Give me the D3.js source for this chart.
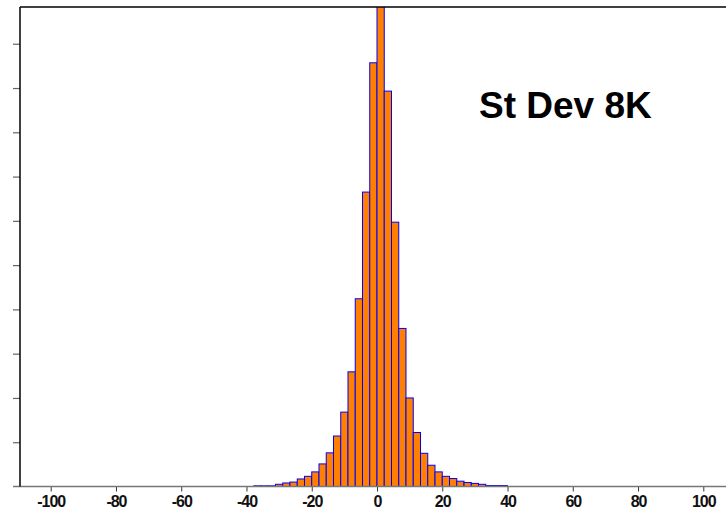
<!DOCTYPE html>
<html>
<head>
<meta charset="utf-8">
<script src="https://cdn.jsdelivr.net/npm/d3@7"></script>
<style>
  body { margin: 0; background: #fff; }
  svg { display: block; }
</style>
</head>
<body>
<svg></svg>
<script>
// histogram counts, 35 bins from -37.78 to 40
var counts = [1.5, 1.5, 1.5, 5, 8, 10, 17, 23, 33, 51, 76, 114, 168, 259, 424, 665, 957, 1100,
              893, 597, 357, 200, 122, 75, 48, 33, 23, 18, 12, 9, 7, 5, 2, 2, 2]
var binStart = -37.78
var binEnd = 40
var xTicks = [-100, -80, -60, -40, -20, 0, 20, 40, 60, 80, 100]
var yTicks = [100, 200, 300, 400, 500, 600, 700, 800, 900, 1000]
var title = 'St Dev 8K'

var screen = { width: 726, height: 510 }
var binWidth = (binEnd - binStart) / counts.length

var xScale = d3.scaleLinear()
               .domain([-100, 100])
               .range([50.7, 703.3])

var yScale = d3.scaleLinear()
               .domain([0, 1083])
               .range([486.5, 7])

var svg = d3.select('svg')
  .attr('width', screen.width)
  .attr('height', screen.height)

svg.append('defs').append('clipPath').attr('id', 'clip')
  .append('rect')
  .attr('x', 20).attr('y', 7)
  .attr('width', screen.width - 20).attr('height', 486.5 - 7)

var bins = counts.map(function(d, i) {
  return { x0: binStart + i * binWidth, x1: binStart + (i + 1) * binWidth, v: d }
})

svg.append('g')
  .attr('clip-path', 'url(#clip)')
  .selectAll('rect')
  .data(bins)
  .enter()
  .append('rect')
  .attr('x', function(d) { return xScale(d.x0) })
  .attr('width', function(d) { return xScale(d.x1) - xScale(d.x0) })
  .attr('y', function(d) { return yScale(d.v) })
  .attr('height', function(d) { return yScale(0) - yScale(d.v) })
  .attr('fill', '#ff8000')
  .attr('stroke', '#0000ff')
  .attr('stroke-width', 1)

// x axis
var xAxis = svg.append('g')
  .attr('transform', 'translate(0,' + yScale(0) + ')')
  .call(d3.axisBottom(xScale).tickValues(xTicks).tickSize(5).tickFormat(function(d) { return d }))
xAxis.select('.domain').remove()
xAxis.append('line')
  .attr('x1', 13).attr('x2', screen.width)
  .attr('stroke', '#777').attr('stroke-width', 1.5)
xAxis.selectAll('.tick line').attr('stroke', '#333')
xAxis.selectAll('.tick text')
  .attr('y', 20)
  .attr('dy', null)
  .attr('font-family', 'Liberation Sans, Arial, sans-serif')
  .attr('font-weight', 'bold')
  .attr('font-size', '16px')
  .attr('letter-spacing', '-1px')
  .attr('fill', '#111')

// y axis, no labels
var yAxis = svg.append('g')
  .attr('transform', 'translate(20,0)')
  .call(d3.axisLeft(yScale).tickValues(yTicks).tickSize(7).tickFormat(''))
yAxis.select('.domain').remove()
yAxis.selectAll('.tick line').attr('stroke', '#666').attr('stroke-width', 1.2)
yAxis.append('line')
  .attr('y1', 7).attr('y2', yScale(0))
  .attr('stroke', '#000').attr('stroke-width', 1.5)

// top frame line
svg.append('line')
  .attr('x1', 20).attr('x2', screen.width)
  .attr('y1', 7).attr('y2', 7)
  .attr('stroke', '#000').attr('stroke-width', 1.5)

svg.append('text')
  .attr('x', 479)
  .attr('y', 117.5)
  .attr('font-family', 'Liberation Sans, Arial, sans-serif')
  .attr('font-weight', 'bold')
  .attr('font-size', '37px')
  .attr('fill', '#000')
  .text(title)
</script>
</body>
</html>
